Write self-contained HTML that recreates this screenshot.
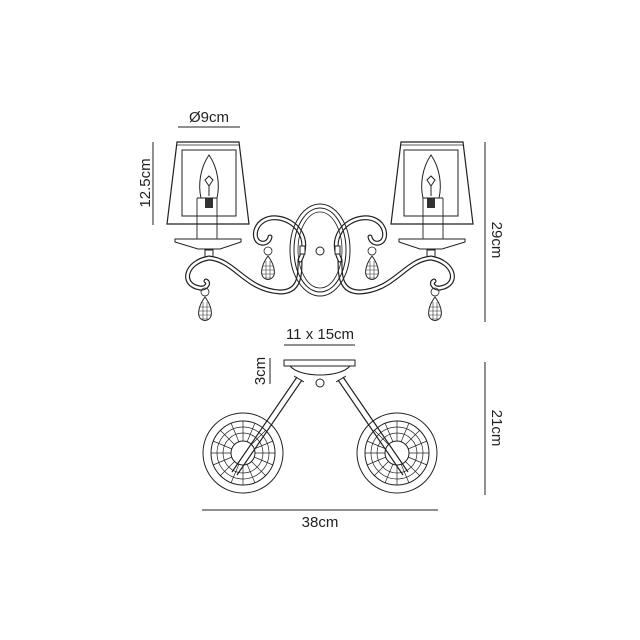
<!DOCTYPE html>
<html><head><style>
html,body{margin:0;padding:0;background:#fff;}
svg{display:block;}
text{font-family:"Liberation Sans",sans-serif;fill:#222;font-size:15px;}
</style></head><body>
<svg width="640" height="640" viewBox="0 0 640 640" xmlns="http://www.w3.org/2000/svg">
<defs>
<g id="drop">
  <circle cx="0" cy="0" r="4" fill="none" stroke="#222" stroke-width="0.8"/>
  <path d="M0,5 C-6,13 -7,20 -6,24 C-4,30 4,30 6,24 C7,20 6,13 0,5Z" fill="#fff" stroke="#222" stroke-width="1"/>
  <path d="M-5,15 H5 M-6,19 H6 M-6,23 H6 M-4,27 H4 M-2,10 V28 M2,10 V28" stroke="#333" stroke-width="0.6"/>
</g>
<g id="lamp">
  <path d="M177,142 H239 L249,224 H167 Z" fill="none" stroke="#222" stroke-width="1.2"/>
  <path d="M177,145 H239" stroke="#222" stroke-width="0.8"/>
  <rect x="182" y="150" width="54" height="66" fill="none" stroke="#222" stroke-width="1"/>
  <path d="M209,155 C200,168 198,185 201,198 H217 C220,185 218,168 209,155Z" fill="#fff" stroke="#222" stroke-width="1"/>
  <path d="M205,180 l4,-4 l4,4 l-4,6z M209,186 V196" stroke="#222" fill="none" stroke-width="1"/>
  <rect x="205" y="198" width="8" height="10" fill="#333"/>
  <path d="M197,198 V243 M217,198 V243 M197,198 H217" stroke="#222" fill="none" stroke-width="0.9"/>
  <path d="M175,239 H241 V242 L220,249 H198 L175,242Z" fill="#fff" stroke="#222" stroke-width="1"/>
  <rect x="205" y="250" width="8" height="7" fill="#fff" stroke="#222" stroke-width="1"/>
  <g fill="none" stroke-linecap="round">
    <path d="M209,258 C185,262 180,285 200,288 C206,289 210,283 206,281 M209,258 C235,260 245,290 280,292 C300,292 300,275 300,260" stroke="#222" stroke-width="5"/>
    <path d="M209,258 C185,262 180,285 200,288 C206,289 210,283 206,281 M209,258 C235,260 245,290 280,292 C300,292 300,275 300,260" stroke="#fff" stroke-width="2.6"/>
    <path d="M300,232 C290,215 262,212 256,230 C252,245 268,247 270,237 M300,232 C305,240 305,250 300,260" stroke="#222" stroke-width="5"/>
    <path d="M300,232 C290,215 262,212 256,230 C252,245 268,247 270,237 M300,232 C305,240 305,250 300,260" stroke="#fff" stroke-width="2.6"/>
  </g>
  <use href="#drop" x="268" y="251"/>
  <use href="#drop" x="205" y="292"/>
</g>
</defs>

<text x="209" y="122" text-anchor="middle">Ø9cm</text>
<line x1="178" y1="127" x2="240" y2="127" stroke="#222" stroke-width="1"/>
<line x1="153" y1="142" x2="153" y2="225" stroke="#222" stroke-width="1"/>
<text transform="translate(150,183) rotate(-90)" text-anchor="middle">12.5cm</text>

<use href="#lamp"/>
<use href="#lamp" transform="translate(640,0) scale(-1,1)"/>

<ellipse cx="320" cy="250" rx="30" ry="46" fill="none" stroke="#222" stroke-width="1"/>
<ellipse cx="320" cy="250" rx="26" ry="42" fill="none" stroke="#222" stroke-width="1"/>
<ellipse cx="320" cy="250" rx="22" ry="38" fill="none" stroke="#222" stroke-width="0.8"/>
<circle cx="320" cy="251" r="4" fill="#fff" stroke="#222"/>
<rect x="300" y="246" width="5" height="8" fill="#fff" stroke="#222"/>
<rect x="335" y="246" width="5" height="8" fill="#fff" stroke="#222"/>

<line x1="485" y1="142" x2="485" y2="322" stroke="#222" stroke-width="1"/>
<text transform="translate(492,240) rotate(90)" text-anchor="middle">29cm</text>

<text x="320" y="339" text-anchor="middle">11 x 15cm</text>
<line x1="284" y1="345" x2="355" y2="345" stroke="#222" stroke-width="1"/>
<line x1="270" y1="358" x2="270" y2="384" stroke="#222" stroke-width="1"/>
<text transform="translate(265,371) rotate(-90)" text-anchor="middle">3cm</text>

<rect x="284" y="360" width="71" height="6" fill="#fff" stroke="#222"/>
<path d="M290,366 C300,378 340,378 350,366" fill="none" stroke="#222"/>
<circle cx="320" cy="383" r="4" fill="#fff" stroke="#222"/>

<g fill="none" stroke="#222">
  <circle cx="243" cy="453" r="40"/>
  <circle cx="243" cy="453" r="32"/>
  <circle cx="243" cy="453" r="12"/>
  <circle cx="397" cy="453" r="40"/>
  <circle cx="397" cy="453" r="32"/>
  <circle cx="397" cy="453" r="12"/>
  <g stroke-width="0.7">
  <path d="M243,421V441M243,465V485M211,453H231M255,453H275M220,430L235,445M251,461L266,476M266,430L251,445M235,461L220,476M231,423L239,442M247,464L255,483M255,423L247,442M239,464L231,483M213,441L232,449M254,457L273,465M273,441L254,449M232,457L213,465"/>
  <circle cx="243" cy="453" r="20"/><circle cx="243" cy="453" r="26"/>
  <path d="M397,421V441M397,465V485M365,453H385M409,453H429M374,430L389,445M405,461L420,476M420,430L405,445M389,461L374,476M385,423L393,442M401,464L409,483M409,423L401,442M393,464L385,483M367,441L386,449M408,457L427,465M427,441L408,449M386,457L367,465"/>
  <circle cx="397" cy="453" r="20"/><circle cx="397" cy="453" r="26"/>
  </g>
  <path d="M297,377 L232,472 M302,380 L237,475" stroke-width="1.2"/>
  <path d="M343,377 L408,472 M338,380 L403,475" stroke-width="1.2"/>
  <path d="M294,376 L304,382 M336,382 L346,376"/>
</g>

<line x1="485" y1="362" x2="485" y2="495" stroke="#222" stroke-width="1"/>
<text transform="translate(492,428) rotate(90)" text-anchor="middle">21cm</text>
<line x1="202" y1="510" x2="438" y2="510" stroke="#222" stroke-width="1"/>
<text x="320" y="527" text-anchor="middle">38cm</text>
</svg>
</body></html>
